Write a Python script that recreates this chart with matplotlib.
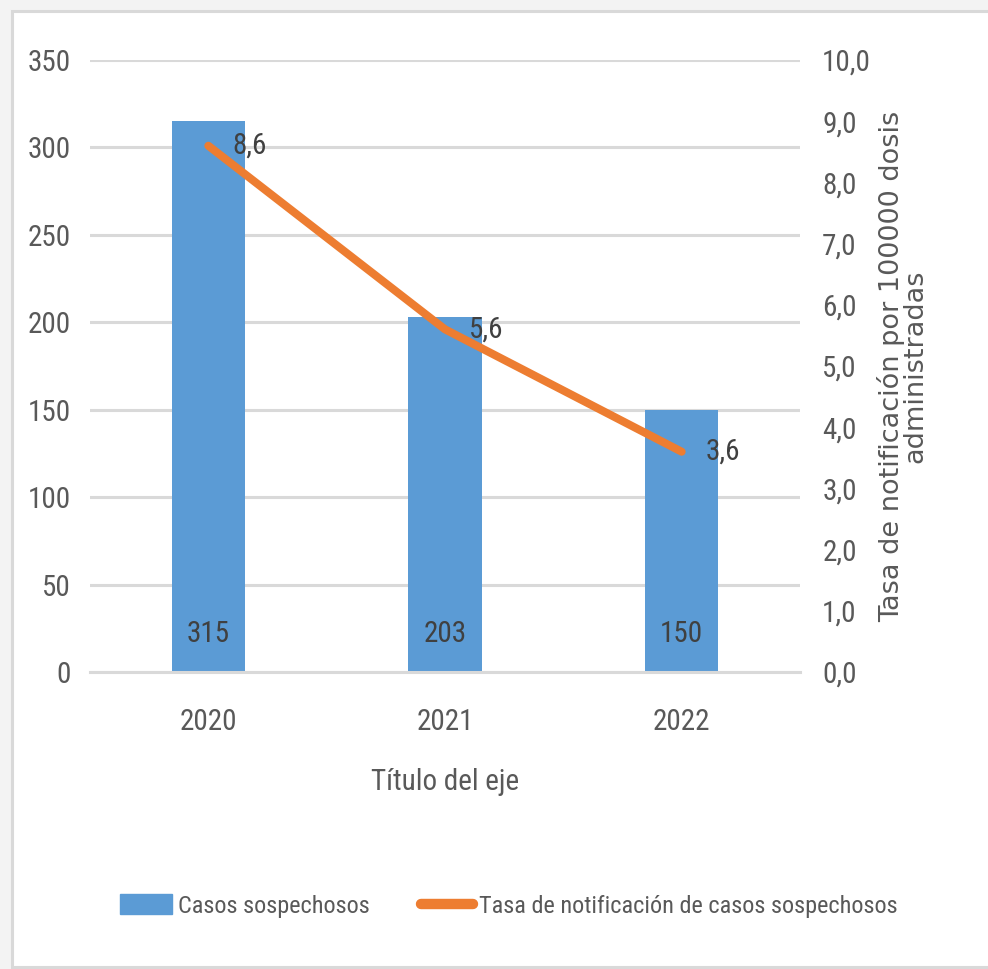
import matplotlib
matplotlib.use("Agg")
import matplotlib.pyplot as plt
from matplotlib.patches import Rectangle, Patch
from matplotlib.lines import Line2D
from matplotlib.ticker import MultipleLocator, FuncFormatter

years = ["2020", "2021", "2022"]
casos = [315, 203, 150]
tasa = [8.6, 5.6, 3.6]

NARROW = ["Roboto Condensed", "Liberation Sans Narrow", "Open Sans Condensed", "Roboto", "DejaVu Sans"]
plt.rcParams["font.family"] = NARROW
plt.rcParams["font.stretch"] = "condensed"

BLUE = "#5B9BD5"
ORANGE = "#ED7D31"
GRID = "#D9D9D9"
TXT = "#595959"
LBL = "#404040"


def main() -> None:
    fig = plt.figure(figsize=(9.88, 9.69), dpi=100, facecolor="#F3F3F3")

    # white chart area with thin grey frame
    fig.patches.append(Rectangle((0.0125, 0.002), 1.0, 0.9865, transform=fig.transFigure,
                                 facecolor="white", edgecolor=GRID, linewidth=2.2, zorder=-5))

    ax = fig.add_axes([0.0911, 0.3065, 0.7186, 0.6315])
    ax.set_zorder(1)
    ax.set_facecolor("none")
    x = list(range(len(years)))

    ax.bar(x, casos, width=0.31, color=BLUE, zorder=2)
    ax.set_xlim(-0.5, 2.5)
    ax.set_ylim(0, 350)
    ax.yaxis.set_major_locator(MultipleLocator(50))
    ax.grid(axis="y", color=GRID, linewidth=2.2, zorder=0)
    ax.set_axisbelow(True)
    for s in ["top", "right", "left"]:
        ax.spines[s].set_visible(False)
    ax.spines["bottom"].set_color(GRID)
    ax.spines["bottom"].set_linewidth(2.2)
    ax.tick_params(axis="both", length=0, labelsize=21, labelcolor=TXT)
    ax.tick_params(axis="y", pad=14)
    ax.tick_params(axis="x", pad=26)
    ax.set_xticks(x)
    ax.set_xticklabels(years)
    ax.set_xlabel("Título del eje", fontsize=21, color=TXT, labelpad=23)

    for xi, v in zip(x, casos):
        ax.text(xi, 22, str(v), ha="center", va="center", fontsize=21, color=LBL, zorder=4)

    ax2 = ax.twinx()
    ax2.set_zorder(2)
    ax2.plot(x, tasa, color=ORANGE, linewidth=5.8, solid_capstyle="round", zorder=3)
    ax2.set_ylim(0, 10)
    ax2.yaxis.set_major_locator(MultipleLocator(1))
    ax2.yaxis.set_major_formatter(FuncFormatter(lambda v, p: f"{v:.1f}".replace(".", ",")))
    for s in ax2.spines.values():
        s.set_visible(False)
    ax2.tick_params(axis="y", length=0, labelsize=21, labelcolor=TXT, pad=16)
    ax2.set_ylabel("Tasa de notificación por 100000 dosis\nadministradas", fontsize=19.5,
                   color=TXT, family=["DejaVu Sans"], stretch="normal", labelpad=4,
                   linespacing=0.9)

    for xi, v in zip(x, tasa):
        ax2.text(xi + 0.1, v, f"{v:.1f}".replace(".", ","), ha="left", va="center",
                 fontsize=21, color=LBL, zorder=5)

    handles = [
        Patch(facecolor=BLUE, edgecolor=BLUE),
        Line2D([0], [0], color=ORANGE, linewidth=7.5, solid_capstyle="round"),
    ]
    fig.legend(handles, ["Casos sospechosos", "Tasa de notificación de casos sospechosos"],
               loc="center", bbox_to_anchor=(0.515, 0.065), ncol=2, frameon=False,
               fontsize=17.5, labelcolor=TXT, handlelength=2.15, handleheight=0.87,
               handletextpad=0.25, columnspacing=2.1)

    fig.savefig("out.png", dpi=100, facecolor=fig.get_facecolor())


if __name__ == "__main__":
    main()
